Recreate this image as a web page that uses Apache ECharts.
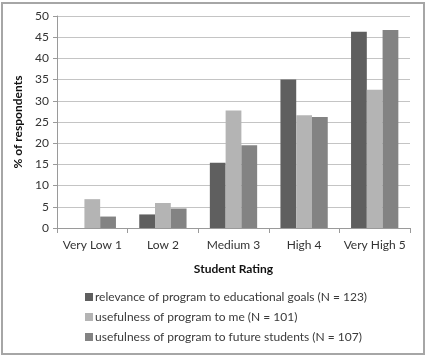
<!DOCTYPE html>
<html lang="en">
<head>
    <meta charset="UTF-8">
    <title>Student Rating</title>
    <script src="https://cdn.jsdelivr.net/npm/echarts@6/dist/echarts.min.js"></script>
    <style>
        html, body { margin: 0; padding: 0; background: #fff; }
        #frame { position: absolute; left: 1px; top: 2px; width: 420px; height: 349px; border: 2px solid #a6a6a6; }
        #main { position: absolute; left: 0; top: 0; width: 429px; height: 356px; }
    </style>
</head>
<body>
<div id="frame"></div>
<div id="main"></div>
<script>
    // ratings on the x axis
    var categories = ['Very Low 1', 'Low 2', 'Medium 3', 'High 4', 'Very High 5'];
    var seriesNames = [
        'relevance of program to educational goals (N = 123)',
        'usefulness of program to me (N = 101)',
        'usefulness of program to future students (N = 107)'
    ];
    // % of respondents
    var relevance = [0, 3.2, 15.4, 35.0, 46.3];
    var usefulMe = [6.8, 5.9, 27.7, 26.6, 32.6];
    var usefulFuture = [2.7, 4.6, 19.5, 26.2, 46.7];
    var yTicks = [0, 5, 10, 15, 20, 25, 30, 35, 40, 45, 50];

    var colors = ['#5f5f5f', '#b4b4b4', '#838383'];
    var font = 'Lato, "Open Sans", sans-serif';

    var myChart = echarts.init(document.getElementById('main'));
    myChart.setOption({
        animation: false,
        color: colors,
        textStyle: { fontFamily: font },
        grid: { left: 57, right: 19, top: 16, bottom: 128, containLabel: false },
        legend: {
            orient: 'vertical',
            left: 80,
            top: 286,
            itemWidth: 8,
            itemHeight: 8,
            itemGap: 8,
            icon: 'rect',
            data: seriesNames,
            textStyle: { fontSize: 12, color: '#3a3a3a', fontFamily: font, padding: [0, 0, 0, -3] }
        },
        xAxis: {
            type: 'category',
            data: categories,
            name: 'Student Rating',
            nameLocation: 'middle',
            nameGap: 35,
            nameTextStyle: { fontWeight: 'bold', fontSize: 12, color: '#111' },
            axisLine: { lineStyle: { color: '#9a9a9a' } },
            axisTick: { show: true, length: 5, lineStyle: { color: '#9a9a9a' } },
            axisLabel: { interval: 0, fontSize: 12, color: '#333', margin: 11 }
        },
        yAxis: {
            type: 'value',
            min: yTicks[0],
            max: yTicks[yTicks.length - 1],
            interval: 5,
            name: '% of respondents',
            nameLocation: 'middle',
            nameGap: 25,
            nameTextStyle: { fontWeight: 'bold', fontSize: 12, color: '#111' },
            axisLine: { show: true, lineStyle: { color: '#9a9a9a' } },
            axisTick: { show: true, length: 4, lineStyle: { color: '#9a9a9a' } },
            axisLabel: { fontSize: 12, color: '#333', margin: 8 },
            splitLine: { lineStyle: { color: '#c4c4c4' } }
        },
        series: [
            { name: seriesNames[0], type: 'bar', data: relevance, barGap: '0%', barCategoryGap: '33%' },
            { name: seriesNames[1], type: 'bar', data: usefulMe, barGap: '0%', barCategoryGap: '33%' },
            { name: seriesNames[2], type: 'bar', data: usefulFuture, barGap: '0%', barCategoryGap: '33%' }
        ]
    });
</script>
</body>
</html>
